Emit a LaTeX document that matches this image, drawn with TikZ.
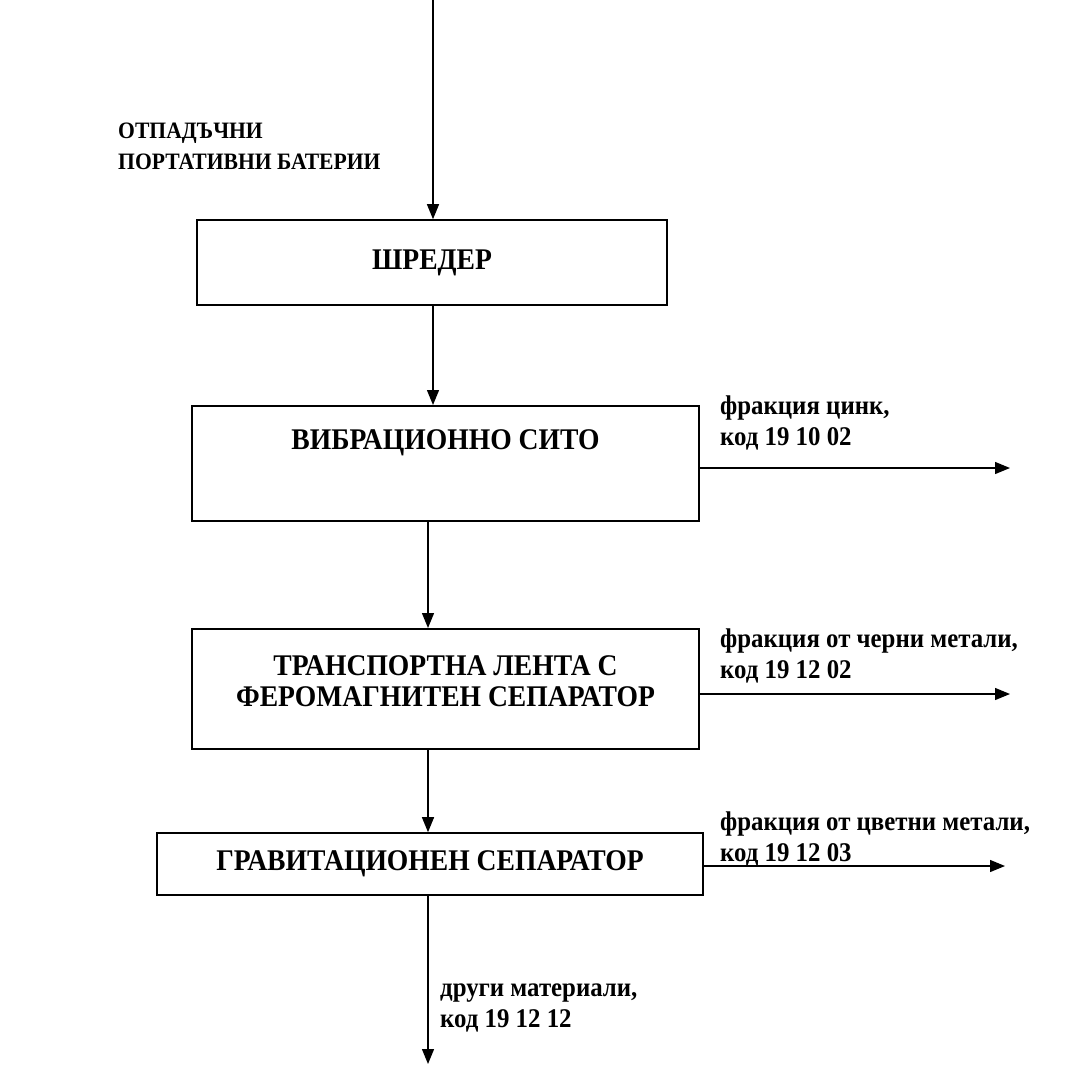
\documentclass[tikz,border=0pt]{standalone}
\usepackage{fontspec}
\setmainfont[FakeStretch=0.92]{Liberation Serif}
\usetikzlibrary{arrows.meta}

\begin{document}
\begin{tikzpicture}[x=1pt,y=-1pt,
  box/.style={draw,line width=1.6pt,inner sep=0pt,align=center,
    font=\fontsize{30}{31}\selectfont\bfseries},
  lbl/.style={anchor=west,align=left,inner sep=0pt,
    font=\fontsize{27}{31}\selectfont\bfseries},
  flow/.style={line width=1.3pt,-{Triangle[length=15pt,width=12pt]}}]
   \useasboundingbox (0,0) rectangle (1074,1066);
   \coordinate (in) at (433,0);
   \coordinate (trunk) at (428,0);
   \node[lbl,font=\fontsize{23.5}{31}\selectfont\bfseries] (waste) at (118,146) {ОТПАДЪЧНИ\\ПОРТАТИВНИ БАТЕРИИ};
   \node[box,minimum width=470,minimum height=85] (shred) at (432,262.5) {ШРЕДЕР};
   \node[box,minimum width=507,text height=44pt,text depth=71pt] (sieve) at (445.5,405) [anchor=north] {ВИБРАЦИОННО СИТО};
   \node[box,minimum width=507,text height=78pt,text depth=42pt] (belt) at (445.5,628) [anchor=north] {ТРАНСПОРТНА ЛЕНТА С\\ФЕРОМАГНИТЕН СЕПАРАТОР};
   \node[box,minimum width=546,minimum height=62] (grav) at (430,864) {ГРАВИТАЦИОНЕН СЕПАРАТОР};
   \node[lbl] (zinc) at (720,423) {фракция цинк,\\код 19 10 02};
   \node[lbl] (ferr) at (720,656) {фракция от черни метали,\\код 19 12 02};
   \node[lbl] (nonf) at (720,839) {фракция от цветни метали,\\код 19 12 03};
   \node[lbl] (rest) at (440,1008) {други материали,\\код 19 12 12};
   \coordinate (zincend) at (1010,468);
   \coordinate (ferrend) at (1010,694);
   \coordinate (nonfend) at (1005,866);
   \coordinate (restend) at (428,1064);
   \draw[flow] (in) -- (shred.north -| in);
   \draw[flow] (shred.south -| in) -- (sieve.north -| in);
   \draw[flow] (sieve.south -| trunk) -- (belt.north -| trunk);
   \draw[flow] (belt.south -| trunk) -- (grav.north -| trunk);
   \draw[flow] (grav.south -| trunk) -- (restend);
   \draw[flow] (sieve.east |- zincend) -- (zincend);
   \draw[flow] (belt.east |- ferrend) -- (ferrend);
   \draw[flow] (grav.east |- nonfend) -- (nonfend);
\end{tikzpicture}
\end{document}
